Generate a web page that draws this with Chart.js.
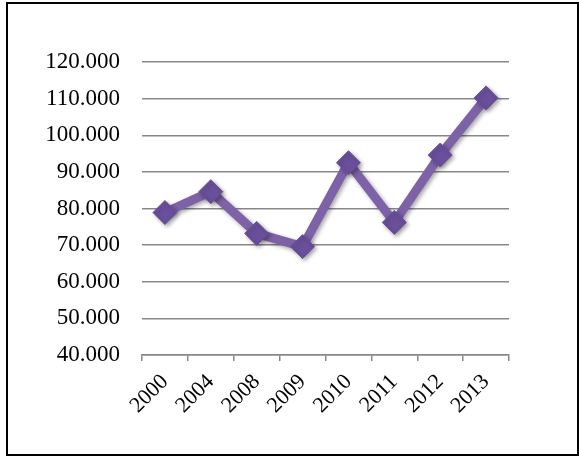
<!DOCTYPE html>
<html>
<head>
<meta charset="UTF-8">
<title>Chart</title>
<script src="https://cdn.jsdelivr.net/npm/chart.js"></script>
<style>
    body { margin: 0; background: #fff; }
    .wrap { position: relative; width: 579px; height: 457px; }
    .frame {
        position: absolute; left: 6px; top: 2px; width: 573px; height: 454px;
        border: 2px solid #000; box-sizing: border-box; pointer-events: none;
    }
    canvas { position: absolute; left: 0; top: 0; }
</style>
</head>
<body>
<div class="wrap">
    <canvas id="grafico" width="579" height="457"></canvas>
    <div class="frame"></div>
</div>
<script>
// dados
const anos = ["2000", "2004", "2008", "2009", "2010", "2011", "2012", "2013"];
const valores = [78900, 84600, 73200, 69600, 92500, 76200, 94600, 110200];
const yMin = 40000;
const yMax = 120000;
const yPasso = 10000;

// sombra suave nos marcadores
const sombra = {
    id: "sombra",
    beforeDatasetsDraw(chart) {
        const c = chart.ctx;
        c.save();
        c.shadowColor = "rgba(0,0,0,0.35)";
        c.shadowBlur = 4;
        c.shadowOffsetX = 2;
        c.shadowOffsetY = 2;
    },
    afterDatasetsDraw(chart) {
        chart.ctx.restore();
    }
};

const familia = "'Liberation Serif', 'Times New Roman', serif";

new Chart(document.getElementById("grafico"), {
    type: "line",
    data: {
        labels: anos,
        datasets: [{
            data: valores,
            borderColor: "#7d62a8",
            borderWidth: 9,
            pointStyle: "rectRot",
            pointRadius: 12,
            pointBackgroundColor: "#6a4f9b",
            pointBorderColor: "#6a4f9b",
            pointBorderWidth: 1,
            tension: 0
        }]
    },
    options: {
        responsive: false,
        animation: false,
        layout: { padding: { top: 62, right: 70, left: 0, bottom: 0 } },
        plugins: { legend: { display: false }, tooltip: { enabled: false } },
        scales: {
            x: {
                offset: true,
                grid: { offset: true, drawOnChartArea: false, drawTicks: true, tickLength: 6, color: "#888", lineWidth: 1.5 },
                border: { display: true, color: "#888", width: 1.5 },
                ticks: { color: "#000", font: { family: familia, size: 22 }, minRotation: 45, maxRotation: 45, padding: 8, autoSkip: false },
                afterFit(scale) { scale.height = 102; }
            },
            y: {
                min: yMin,
                max: yMax,
                grid: { color: "#888", lineWidth: 1.5, drawTicks: false },
                border: { display: false },
                ticks: {
                    stepSize: yPasso,
                    color: "#000",
                    font: { family: familia, size: 23 },
                    padding: 22,
                    callback: v => v.toLocaleString("de-DE")
                },
                afterFit(scale) { scale.width = 142; }
            }
        }
    },
    plugins: [sombra]
});
</script>
</body>
</html>
